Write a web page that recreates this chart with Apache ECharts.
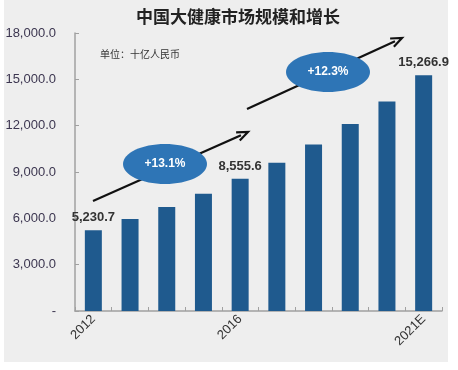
<!DOCTYPE html>
<html><head><meta charset="utf-8">
<script src="https://cdn.jsdelivr.net/npm/echarts@6/dist/echarts.min.js"></script>
<style>html,body{margin:0;padding:0;background:#fff;}#c{width:458px;height:370px;}</style>
</head><body><div id="c"></div>
<script>
const categories = ['2012','2013','2014','2015','2016','2017','2018','2019','2020','2021E'];
const shownCategoryLabels = ['2012','2016','2021E'];
const values = [5230.7, 5950, 6740, 7590, 8555.6, 9605, 10780, 12100, 13570, 15266.9];
const labeledIndices = [0, 4, 9];
const yTicks = [0, 3000, 6000, 9000, 12000, 15000, 18000];
const growthLabels = ['+13.1%', '+12.3%'];

const chart = echarts.init(document.getElementById('c'));

function fmt(v){
  if (v === 0) return '-';
  return v.toLocaleString('en-US', {minimumFractionDigits:1, maximumFractionDigits:1});
}

function arrow(x1,y1,x2,y2){
  const a = Math.atan2(y2-y1, x2-x1);
  const L = 11, W = 4.5;
  const bx = x2 - L*Math.cos(a), by = y2 - L*Math.sin(a);
  const px = -Math.sin(a)*W, py = Math.cos(a)*W;
  return [
    {type:'line', shape:{x1:x1,y1:y1,x2:bx+ (x2-bx)*0.3,y2:by+(y2-by)*0.3}, style:{stroke:'#111',lineWidth:2.2}},
    {type:'polyline', shape:{points:[[bx+px,by+py],[x2,y2],[bx-px,by-py]]}, style:{stroke:'#111',lineWidth:2.2,fill:null}}
  ];
}

function ellipse(cx,cy,text){
  return {type:'group', children:[
    {type:'ellipse', shape:{cx:cx,cy:cy,rx:42,ry:20}, style:{fill:'#2e75b6'}},
    {type:'text', x:cx, y:cy, style:{text:text, fill:'#fff', font:'bold 12px Arial, "Liberation Sans", sans-serif', align:'center', verticalAlign:'middle'}}
  ]};
}

const graphics = [
  {type:'rect', z:-10, silent:true, shape:{x:4,y:0,width:444,height:362}, style:{fill:'#eeeeee'}},
  {type:'text', x:238, y:17, style:{text:'中国大健康市场规模和增长', fill:'#222', font:'bold 17px "Noto Sans CJK SC", sans-serif', align:'center', verticalAlign:'middle'}},
  {type:'text', x:100, y:54, style:{text:'单位：十亿人民币', fill:'#333', font:'10px "Noto Sans CJK SC", sans-serif', align:'left', verticalAlign:'middle'}},
  ...arrow(93,201,248,132),
  ...arrow(247,109,402,38),
  ellipse(165,164,growthLabels[0]),
  ellipse(328,72,growthLabels[1])
];

chart.setOption({
  backgroundColor:'transparent',
  animation:false,
  grid:{left:75, right:16, top:33, bottom:59, containLabel:false},
  xAxis:{
    type:'category', data:categories,
    axisLine:{lineStyle:{color:'#a0a0a0', width:1.5}},
    axisTick:{show:true, inside:true, length:4, alignWithLabel:false, interval:0, lineStyle:{color:'#a0a0a0'}},
    axisLabel:{rotate:45, interval:0, margin:6, color:'#333', fontSize:13, fontFamily:'Arial, "Liberation Sans", sans-serif',
      formatter:function(v){ return shownCategoryLabels.indexOf(v) >= 0 ? v : ''; }}
  },
  yAxis:{
    type:'value', min:0, max:18000, interval:3000,
    splitLine:{show:false},
    axisLine:{show:true, lineStyle:{color:'#a0a0a0', width:1.5}},
    axisTick:{show:true, inside:true, length:4, lineStyle:{color:'#a0a0a0'}},
    axisLabel:{margin:19, color:'#3c3650', fontSize:13, fontFamily:'Arial, "Liberation Sans", sans-serif', formatter:fmt}
  },
  series:[{
    type:'bar', barWidth:17,
    itemStyle:{color:'#1f5a8e'},
    data: values.map(function(v,i){
      return {value:v, label:{show: labeledIndices.indexOf(i) >= 0}};
    }),
    label:{position:'top', distance:6, color:'#333', fontWeight:'bold', fontSize:13, fontFamily:'Arial, "Liberation Sans", sans-serif',
      formatter:function(p){ return fmt(p.value); }}
  }],
  graphic: graphics
});
</script></body></html>
